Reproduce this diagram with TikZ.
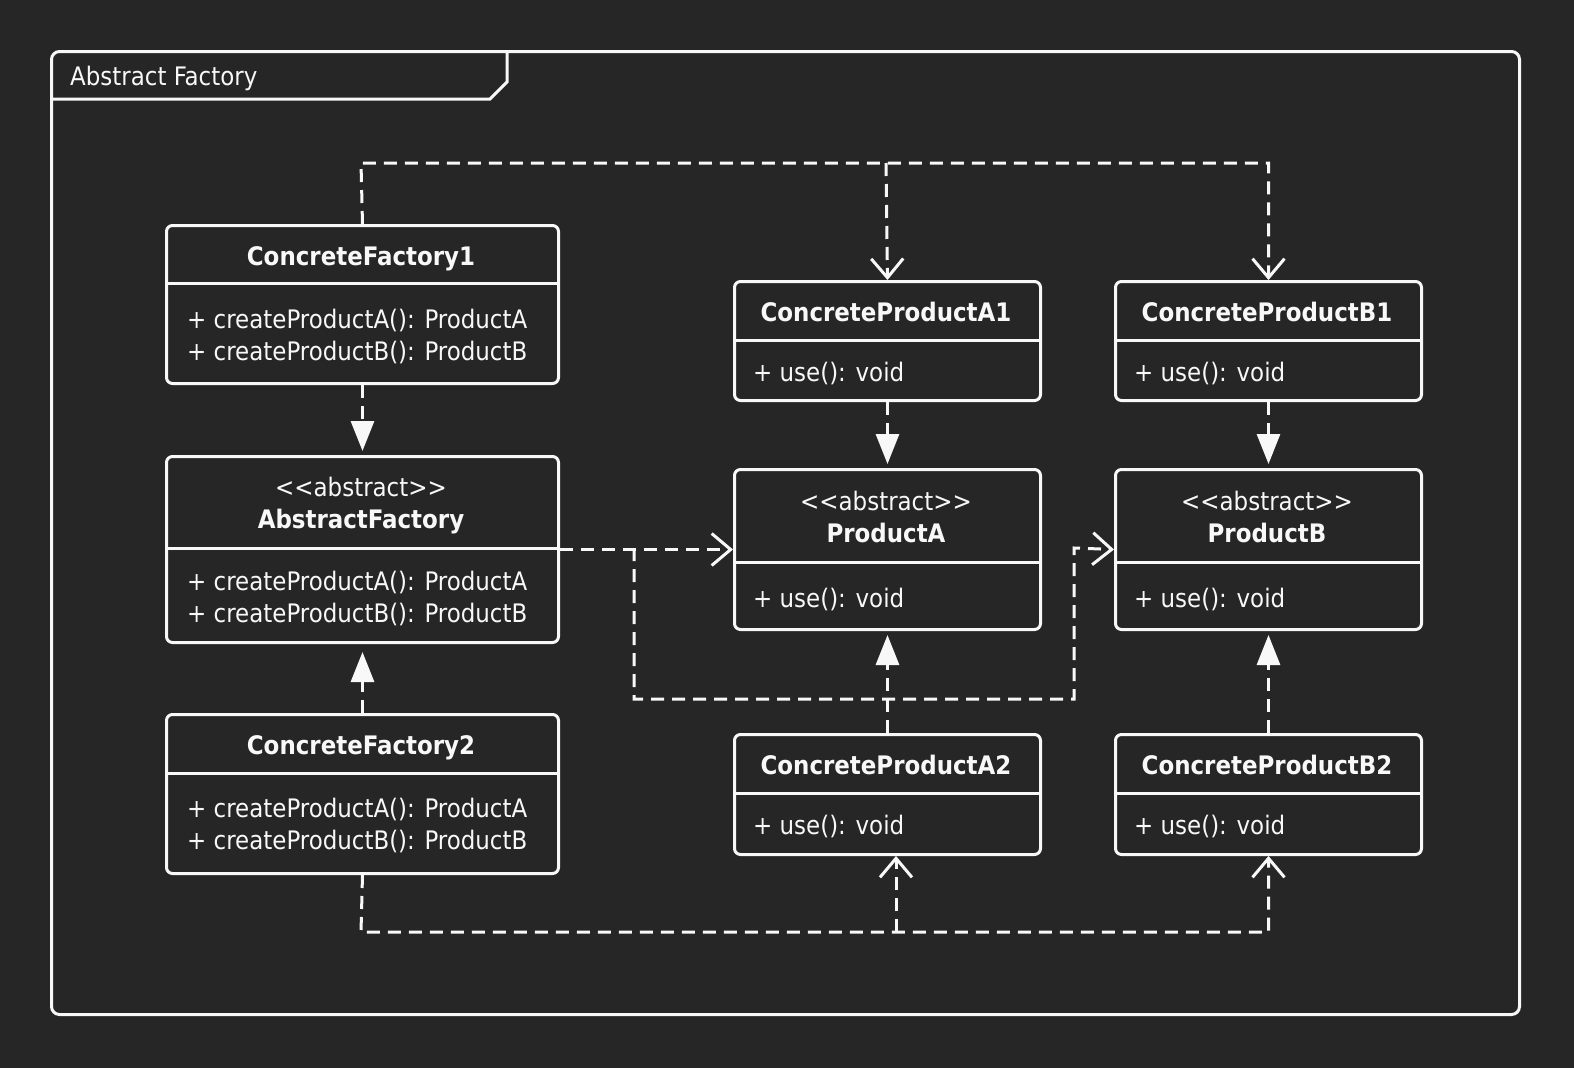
\documentclass[tikz,border=0pt]{standalone}
\usepackage{fontspec}
\setmainfont{DejaVu Sans Condensed}
\usetikzlibrary{arrows.meta}
\definecolor{bg}{HTML}{262626}
\definecolor{fg}{HTML}{F8F8F8}
\newcommand{\stereo}{{<}{<}abstract{>}{>}}
\begin{document}
\begin{tikzpicture}[x=1pt,y=-1pt,
  txt/.style={text=fg, font=\fontsize{25.5}{30}\selectfont, inner sep=0pt, text height=18pt, text depth=0pt},
  ttl/.style={txt, font=\fontsize{25.5}{30}\selectfont\bfseries},
  meth/.style={txt, anchor=west},
  box/.style={draw=fg, line width=3pt, rounded corners=6pt, fill=bg, anchor=north west, inner sep=0pt},
  divider/.style={draw=fg, line width=3pt},
  dashln/.style={draw=fg, line width=3pt, dash pattern=on 13pt off 8pt},
  dep/.style={dashln, -{Straight Barb[length=19pt,width=32pt,line width=3pt]}},
  gen/.style={dashln, -{Triangle[length=30pt,width=23pt]}, shorten >=4pt},
]
\useasboundingbox (0,0) rectangle (1574,1068);
\fill[bg] (0,0) rectangle (1574,1068);

% frame
\node[box, rounded corners=8pt, fill=none, minimum width=1468pt, minimum height=963pt] (frame) at (50,50) {};
\draw[divider] (frame.north west |- 0,99) -- (490,99) -- (507,82) -- (507,50);
\node[meth] (framelbl) at (70,76) {Abstract Factory};

% ConcreteFactory1
\node[box, minimum width=392pt, minimum height=158pt] (cf1) at (165,224) {};
\draw[divider] (cf1.west |- 0,283) -- (cf1.east |- 0,283);
\node[ttl] (cf1t) at (361,256) {ConcreteFactory1};
\node[meth] (cf1m1) at (187,319) {+ createProductA(): ProductA};
\node[meth] (cf1m2) at (187,351) {+ createProductB(): ProductB};

% AbstractFactory
\node[box, minimum width=392pt, minimum height=186pt] (af) at (165,455) {};
\draw[divider] (af.west |- 0,548) -- (af.east |- 0,548);
\node[txt] (afs) at (361,487) {\stereo};
\node[ttl] (aft) at (361,519) {AbstractFactory};
\node[meth] (afm1) at (187,581) {+ createProductA(): ProductA};
\node[meth] (afm2) at (187,613) {+ createProductB(): ProductB};

% ConcreteFactory2
\node[box, minimum width=392pt, minimum height=159pt] (cf2) at (165,713) {};
\draw[divider] (cf2.west |- 0,773) -- (cf2.east |- 0,773);
\node[ttl] (cf2t) at (361,745) {ConcreteFactory2};
\node[meth] (cf2m1) at (187,808) {+ createProductA(): ProductA};
\node[meth] (cf2m2) at (187,840) {+ createProductB(): ProductB};

% ConcreteProductA1
\node[box, minimum width=306pt, minimum height=119pt] (cpa1) at (733,280) {};
\draw[divider] (cpa1.west |- 0,340) -- (cpa1.east |- 0,340);
\node[ttl] (cpa1t) at (886,312) {ConcreteProductA1};
\node[meth] (cpa1m) at (753,372) {+ use(): void};

% ProductA
\node[box, minimum width=306pt, minimum height=160pt] (pa) at (733,468) {};
\draw[divider] (pa.west |- 0,562) -- (pa.east |- 0,562);
\node[txt] (pas) at (886,501) {\stereo};
\node[ttl] (pat) at (886,533) {ProductA};
\node[meth] (pam) at (753,598) {+ use(): void};

% ConcreteProductA2
\node[box, minimum width=306pt, minimum height=120pt] (cpa2) at (733,733) {};
\draw[divider] (cpa2.west |- 0,793) -- (cpa2.east |- 0,793);
\node[ttl] (cpa2t) at (886,765) {ConcreteProductA2};
\node[meth] (cpa2m) at (753,825) {+ use(): void};

% ConcreteProductB1
\node[box, minimum width=306pt, minimum height=119pt] (cpb1) at (1114,280) {};
\draw[divider] (cpb1.west |- 0,340) -- (cpb1.east |- 0,340);
\node[ttl] (cpb1t) at (1267,312) {ConcreteProductB1};
\node[meth] (cpb1m) at (1134,372) {+ use(): void};

% ProductB
\node[box, minimum width=306pt, minimum height=160pt] (pb) at (1114,468) {};
\draw[divider] (pb.west |- 0,562) -- (pb.east |- 0,562);
\node[txt] (pbs) at (1267,501) {\stereo};
\node[ttl] (pbt) at (1267,533) {ProductB};
\node[meth] (pbm) at (1134,598) {+ use(): void};

% ConcreteProductB2
\node[box, minimum width=306pt, minimum height=120pt] (cpb2) at (1114,733) {};
\draw[divider] (cpb2.west |- 0,793) -- (cpb2.east |- 0,793);
\node[ttl] (cpb2t) at (1267,765) {ConcreteProductB2};
\node[meth] (cpb2m) at (1134,825) {+ use(): void};

% generalizations
\draw[gen] (cf1.south) -- (af.north);
\draw[gen, shorten >=8pt] (cf2.north) -- (af.south);
\draw[gen] (cpa1.south) -- (pa.north);
\draw[gen] (cpa2.north) -- (pa.south);
\draw[gen] (cpb1.south) -- (pb.north);
\draw[gen] (cpb2.north) -- (pb.south);

% dependencies from ConcreteFactory1
\coordinate (t1) at (361,163);
\coordinate (t2) at (886,163);
\draw[dep] (cf1.north) -- (t1) -| (cpb1.north);
\draw[dep] (t2) -- (cpa1.north);

% dependencies from AbstractFactory
\coordinate (m1) at (634,548);
\coordinate (m2) at (634,699);
\coordinate (m3) at (1074,699);
\coordinate (m4) at (1074,548);
\draw[dep] (af.east) -- (pa.west);
\draw[dep] (m1) -- (m2) -- (m3) -- (m4) -- (pb.west);

% dependencies from ConcreteFactory2
\coordinate (b1) at (361,932);
\coordinate (b2) at (896,932);
\draw[dep] (cf2.south) -- (b1) -| (cpb2.south);
\draw[dep] (b2) -- (b2 |- cpa2.south);
\end{tikzpicture}
\end{document}
